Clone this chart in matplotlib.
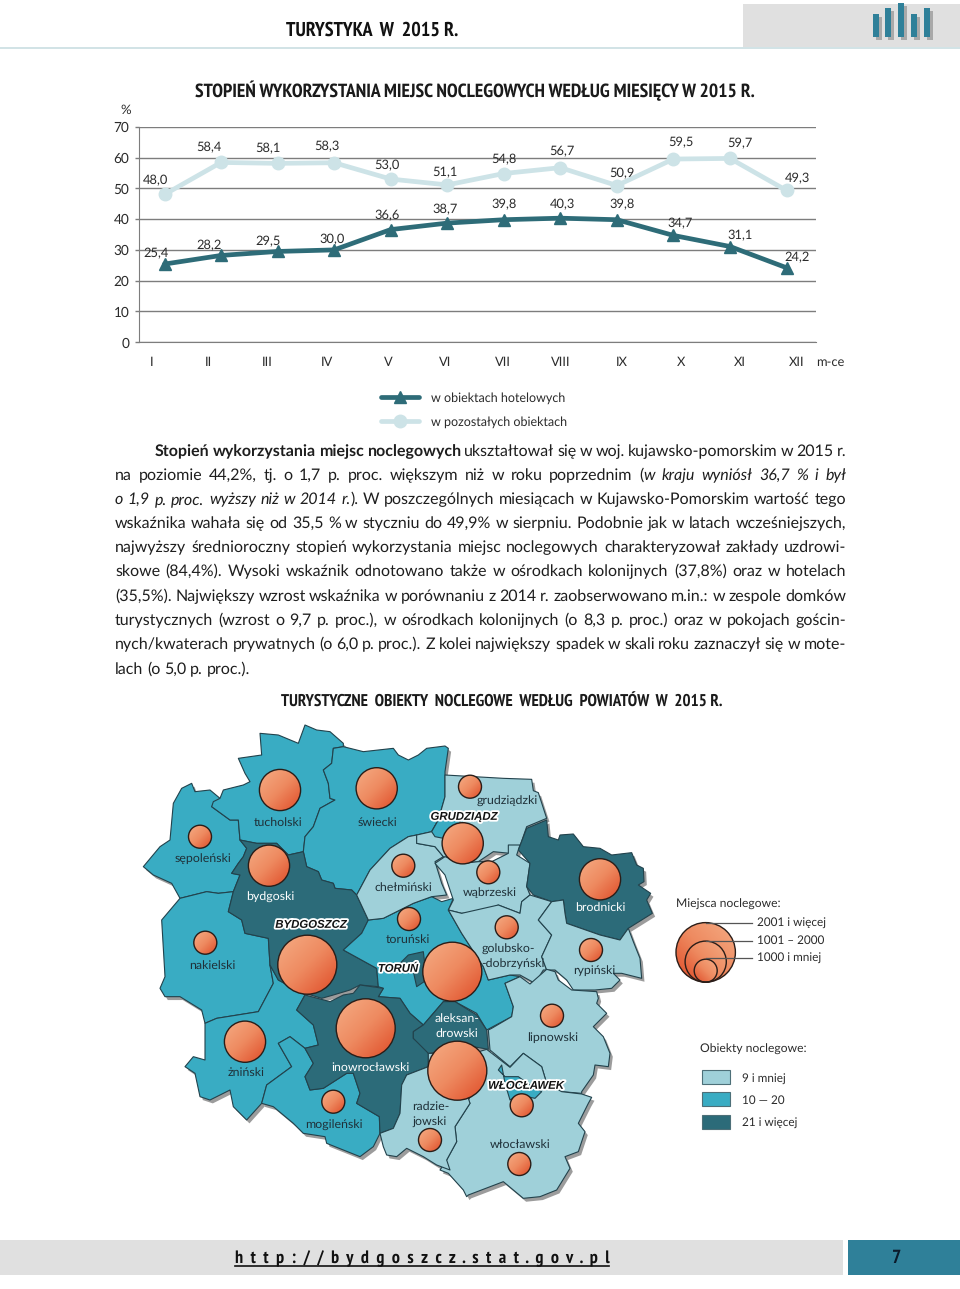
import numpy as np
import matplotlib
matplotlib.use("Agg")
import matplotlib.pyplot as plt
import matplotlib.patheffects as pe
from matplotlib.colors import LinearSegmentedColormap
from matplotlib.patches import Circle, Polygon, Rectangle
from matplotlib.transforms import ScaledTranslation

# line chart data
months = ["I", "II", "III", "IV", "V", "VI", "VII", "VIII", "IX", "X", "XI", "XII"]
hotel_values = [25.4, 28.2, 29.5, 30.0, 36.6, 38.7, 39.8, 40.3, 39.8, 34.7, 31.1, 24.2]
other_values = [48.0, 58.4, 58.1, 58.3, 53.0, 51.1, 54.8, 56.7, 50.9, 59.5, 59.7, 49.3]
y_ticks = [0, 10, 20, 30, 40, 50, 60, 70]

# map: outlines, in 3x units from the map corner
powiat_outlines = {
    "sepolenski": [(40,440),(90,380),(120,360),(130,250),(155,205),(185,190),(195,215),(240,210),(270,235),(245,260),(300,300),(325,300),(330,360),(350,385),(340,410),(325,430),(305,460),(330,465),(310,515),(265,520),(230,515),(150,535),(125,490),(70,465)],
    "tucholski": [(325,115),(395,105),(390,40),(445,45),(505,70),(525,15),(560,30),(600,35),(640,70),(640,80),(610,85),(605,130),(580,150),(595,190),(600,235),(615,240),(570,265),(550,320),(525,350),(520,395),(475,405),(440,370),(400,370),(380,370),(330,360),(325,300),(300,300),(245,260),(250,245),(270,235),(280,210),(340,195),(360,185),(345,160)],
    "swiecki": [(640,80),(610,85),(605,130),(580,150),(595,190),(600,235),(615,240),(570,265),(550,320),(525,350),(520,395),(530,440),(565,455),(575,480),(610,490),(615,505),(665,510),(680,525),(720,450),(780,385),(835,350),(860,345),(905,335),(925,300),(945,230),(945,155),(955,85),(945,78),(890,85),(865,105),(835,120),(805,105),(790,85),(700,95)],
    "nakielski": [(150,535),(230,515),(265,520),(310,515),(295,575),(335,600),(345,640),(415,655),(420,735),(430,790),(385,875),(260,895),(225,910),(215,870),(150,830),(105,830),(90,805),(105,770),(95,600)],
    "zninski": [(225,910),(260,895),(385,875),(430,790),(420,735),(445,780),(510,815),(525,825),(500,870),(550,915),(565,975),(525,985),(480,950),(445,970),(485,1040),(410,1095),(395,1150),(350,1200),(310,1160),(300,1110),(240,1140),(210,1130),(195,1060),(165,1040),(190,1010),(225,1020)],
    "mogilenski": [(445,970),(480,950),(525,985),(550,1030),(525,1070),(540,1110),(580,1105),(650,1060),(670,1060),(690,1120),(680,1150),(748,1190),(750,1240),(730,1280),(690,1310),(640,1290),(590,1270),(585,1250),(520,1240),(490,1210),(460,1185),(430,1160),(395,1150),(410,1095),(485,1040)],
    "bydgoski": [(330,360),(380,370),(440,370),(475,405),(520,395),(530,440),(565,455),(575,480),(610,490),(615,505),(665,510),(680,525),(715,600),(695,640),(640,690),(740,745),(745,800),(690,795),(660,810),(610,825),(575,835),(510,815),(445,780),(420,735),(415,655),(345,640),(335,600),(295,575),(310,515),(330,465),(305,460),(325,430),(340,410),(350,385)],
    "torunski": [(640,690),(695,640),(715,600),(760,595),(850,550),(905,530),(935,545),(970,535),(955,570),(995,640),(1060,740),(1075,780),(1140,765),(1170,770),(1125,790),(1150,860),(1145,890),(1070,930),(1040,880),(975,845),(940,845),(880,915),(840,880),(810,835),(745,830),(760,805),(745,800),(740,745)],
    "inowroclawski": [(500,870),(525,825),(600,845),(640,825),(670,820),(690,795),(760,805),(745,830),(810,835),(840,880),(880,915),(850,935),(850,955),(895,990),(895,1040),(830,1065),(815,1095),(810,1180),(790,1225),(750,1240),(748,1190),(680,1150),(690,1120),(670,1060),(650,1060),(580,1105),(540,1110),(525,1070),(550,1030),(525,985),(565,975),(550,915)],
    "chelminski": [(680,525),(720,450),(780,385),(835,350),(860,345),(860,370),(915,380),(940,410),(915,425),(935,490),(950,525),(905,530),(850,550),(760,595),(715,600)],
    "grudziadzki": [(945,165),(1120,175),(1205,178),(1210,212),(1225,218),(1250,295),(1190,320),(1170,378),(1140,378),(1140,400),(1090,395),(1045,425),(1000,430),(940,410),(915,380),(860,370),(860,345),(905,335),(925,300),(945,230)],
    "wabrzeski": [(915,430),(945,410),(1000,430),(1045,425),(1085,425),(1135,400),(1135,375),(1170,375),(1160,405),(1200,430),(1190,500),(1200,525),(1175,545),(1170,580),(1105,555),(1060,575),(995,580),(955,570),(970,540),(945,465)],
    "brodnicki": [(1165,390),(1190,325),(1250,300),(1255,350),(1285,360),(1290,345),(1330,342),(1360,380),(1410,385),(1445,405),(1505,398),(1520,435),(1540,445),(1542,485),(1525,495),(1562,520),(1550,540),(1567,580),(1495,625),(1470,660),(1410,645),(1310,610),(1305,580),(1300,540),(1265,545),(1210,525),(1190,500),(1200,430)],
    "golubsko": [(955,570),(995,580),(1105,555),(1170,580),(1175,545),(1200,525),(1265,545),(1225,600),(1265,645),(1235,710),(1250,750),(1240,750),(1215,790),(1170,765),(1140,765),(1075,780),(1060,740),(995,640)],
    "rypinski": [(1265,545),(1300,540),(1305,580),(1310,610),(1410,645),(1470,660),(1495,625),(1510,665),(1530,715),(1535,775),(1475,760),(1450,760),(1470,780),(1445,805),(1395,810),(1330,810),(1310,780),(1275,750),(1250,750),(1235,710),(1265,645),(1225,600)],
    "lipnowski": [(1125,790),(1170,770),(1200,792),(1250,748),(1275,755),(1285,780),(1325,810),(1400,815),(1405,835),(1400,850),(1430,880),(1390,920),(1420,950),(1440,1000),(1435,1040),(1395,1035),(1390,1065),(1355,1115),(1355,1120),(1295,1115),(1250,1090),(1235,1040),(1180,1000),(1140,1040),(1080,990),(1075,930),(1085,925),(1145,890),(1150,860)],
    "wloclawski": [(1070,988),(1140,1042),(1180,1000),(1235,1040),(1250,1090),(1295,1115),(1355,1122),(1385,1132),(1375,1150),(1345,1210),(1365,1235),(1345,1295),(1305,1310),(1320,1345),(1280,1410),(1230,1430),(1180,1435),(1120,1385),(1015,1425),(1010,1430),(1000,1410),(955,1360),(930,1350),(950,1320),(980,1265),(975,1220),(1020,1150),(1015,1140),(1040,1100),(1030,1000)],
    "radziejowski": [(895,1040),(830,1065),(815,1095),(810,1180),(790,1225),(750,1240),(760,1280),(770,1305),(800,1310),(830,1285),(880,1310),(920,1335),(960,1350),(950,1320),(980,1265),(975,1220),(1020,1150),(1015,1135),(1040,1100),(1040,1000),(895,1000)],
    "aleksandrowski": [(940,845),(975,845),(1040,885),(1070,930),(1075,988),(1030,980),(895,1000),(850,955),(850,935),(880,915)],
    "Grudziadz": [(905,335),(925,300),(945,285),(990,280),(990,340),(940,355),(915,350)],
    "Torun": [(800,740),(835,705),(880,695),(890,780),(860,800),(850,755)],
    "Wloclawek": [(1115,1035),(1105,1050),(1125,1070),(1165,1070),(1200,1095),(1235,1115),(1215,1135),(1165,1125),(1140,1140),(1125,1090)],
}
# 1 = 9 i mniej, 2 = 10-20, 3 = 21 i wiecej
powiat_class = {
    "sepolenski": 2, "tucholski": 2, "swiecki": 2, "nakielski": 2, "zninski": 2, "mogilenski": 2,
    "bydgoski": 3, "torunski": 2, "inowroclawski": 3, "chelminski": 1, "grudziadzki": 1, "wabrzeski": 1,
    "brodnicki": 3, "golubsko": 1, "rypinski": 1, "lipnowski": 1, "wloclawski": 1, "radziejowski": 1,
    "aleksandrowski": 3, "Grudziadz": 2, "Torun": 3, "Wloclawek": 2,
}

# bubbles: page x, page y, size class (1 = 1000 i mniej, 2 = 1001-2000, 3 = 2001 i wiecej)
bubble_x = [280, 376.7, 200, 269, 470, 462.7, 403.3, 488.3, 409, 506.7, 205.3, 307.3, 452.3, 600, 591, 365.7, 245, 333.3, 457.3, 430, 552, 521.7, 519.3]
bubble_y = [790, 788.3, 836.7, 865.7, 786.7, 843.3, 865.7, 872.3, 919, 927.3, 942.7, 964.7, 971.7, 879.3, 950, 1028.3, 1041.7, 1101.7, 1070.7, 1140, 1015.7, 1105.3, 1164]
bubble_size = [2, 2, 1, 2, 1, 2, 1, 1, 1, 1, 1, 3, 3, 2, 1, 3, 2, 1, 3, 1, 1, 1, 1]

# (text, x, y, white?)
map_labels = [
    ("tucholski", 278, 823, False), ("świecki", 377, 823, False), ("sępoleński", 203, 859, False),
    ("bydgoski", 270, 897, True), ("grudziądzki", 507, 801, False), ("chełmiński", 403, 888, False),
    ("wąbrzeski", 490, 893, False), ("toruński", 408, 940, False), ("golubsko-", 508, 949, False),
    ("-dobrzyński", 513, 964, False), ("nakielski", 212, 966, False), ("brodnicki", 600, 908, True),
    ("rypiński", 594, 971, False), ("aleksan-", 457, 1019, True), ("drowski", 457, 1034, True),
    ("lipnowski", 553, 1038, False), ("żniński", 246, 1073, False), ("inowrocławski", 370, 1068, True),
    ("mogileński", 334, 1125, False), ("radzie-", 431, 1107, False), ("jowski", 430, 1122, False),
    ("włocławski", 520, 1145, False),
]
city_labels = [("GRUDZIĄDZ", 464, 817), ("BYDGOSZCZ", 311, 925), ("TORUŃ", 398, 969), ("WŁOCŁAWEK", 526, 1086)]

body_lines = [
    [("Stopień wykorzystania miejsc noclegowych", "b"), (" ukształtował się w woj. kujawsko-pomorskim w 2015 r.", "n")],
    [("na poziomie 44,2%, tj. o 1,7 p. proc. większym niż w roku poprzednim (", "n"), ("w kraju wyniósł 36,7 % i był", "i")],
    [("o 1,9 p. proc. wyższy niż w 2014 r.", "i"), ("). W poszczególnych miesiącach w Kujawsko-Pomorskim wartość tego", "n")],
    [("wskaźnika wahała się od 35,5 % w styczniu do 49,9% w sierpniu. Podobnie jak w latach wcześniejszych,", "n")],
    [("najwyższy średnioroczny stopień wykorzystania miejsc noclegowych charakteryzował zakłady uzdrowi-", "n")],
    [("skowe (84,4%). Wysoki wskaźnik odnotowano także w ośrodkach kolonijnych (37,8%) oraz w hotelach", "n")],
    [("(35,5%). Największy wzrost wskaźnika w porównaniu z 2014 r. zaobserwowano m.in.: w zespole domków", "n")],
    [("turystycznych (wzrost o 9,7 p. proc.), w ośrodkach kolonijnych (o 8,3 p. proc.) oraz w pokojach gościn-", "n")],
    [("nych/kwaterach prywatnych (o 6,0 p. proc.). Z kolei największy spadek w skali roku zaznaczył się w mote-", "n")],
    [("lach (o 5,0 p. proc.).", "n")],
]

LIGHT = "#9FD0D9"
MID = "#39ACC3"
DARK = "#2C6B79"
EDGE = "#22424C"
TEXT = "#2b2b2b"
# PT Sans Narrow is not on the promised list, so Liberation Sans stays behind it
NARROW = ["PT Sans Narrow", "Liberation Sans"]
class_colors = {1: LIGHT, 2: MID, 3: DARK}
bubble_radius = {1: 11.5, 2: 20.6, 3: 29.5}
ball_cmap = LinearSegmentedColormap.from_list("ball", ["#F5AC84", "#EE8A60", "#DF4C28"])

plt.rcParams["font.family"] = ["Lato", "DejaVu Sans"]
plt.rcParams["text.hinting"] = "no_hinting"

fig = plt.figure(figsize=(9.6, 12.89), dpi=100)
page = fig.add_axes([0, 0, 1, 1])
page.set_xlim(0, 960)
page.set_ylim(1289, 0)
page.axis("off")
renderer = fig.canvas.get_renderer()


def to_page(points):
    pts = np.array(points, dtype=float)
    return np.column_stack([130 + pts[:, 0] / 3.0, 720 + pts[:, 1] / 3.0])


def ball(x, y, r, flip=False):
    t = np.linspace(0, 1, 48)
    gx, gy = np.meshgrid(t, t)
    grad = (gx + gy) / 2.0 if not flip else ((1 - gx) + gy) / 2.0
    c = Circle((x, y), r, fc="none", ec="#2a1d18", lw=1.0, zorder=5)
    page.add_patch(c)
    im = page.imshow(grad, cmap=ball_cmap, extent=(x - r, x + r, y + r, y - r), aspect="auto", zorder=4)
    im.set_clip_path(c)


def narrow_text(x, y, txt, width, **kw):
    # size follows the width in the page, whichever family was found
    t = page.text(x, y, txt, family=NARROW, weight="bold", fontsize=12, va="center", **kw)
    t.set_fontsize(12 * width / t.get_window_extent(renderer).width)
    return t


# header
page.add_patch(Rectangle((743, 4), 217, 43, fc="#E0E0E0", ec="none"))
page.plot([0, 960], [47.5, 47.5], color="#C9DEE2", lw=1.2)
for bx, top in zip([873, 885, 898, 911, 924], [14, 8, 3, 14, 8]):
    page.add_patch(Rectangle((bx + 3, top + 3), 6, 37 - top, fc="#A9A9A9", ec="none"))
    page.add_patch(Rectangle((bx, top), 6, 37 - top, fc="#2F8099", ec="none"))
narrow_text(286, 30.5, "TURYSTYKA  W  2015 R.", 172, color="#111111")

# chart title
narrow_text(195, 91, "STOPIEŃ WYKORZYSTANIA MIEJSC NOCLEGOWYCH WEDŁUG MIESIĘCY W 2015 R.", 557, color="#1a1a1a")
page.text(126, 110, "%", fontsize=9.5, color=TEXT, ha="center", va="center")
page.text(830, 362, "m-ce", fontsize=9.3, color=TEXT, ha="center", va="center")

# line chart
ax = fig.add_axes([139 / 960, 1 - 342.3 / 1289, 677 / 960, 215.6 / 1289])
ax.patch.set_alpha(0)
xpos = np.arange(len(months))
ax.set_xlim((139 - 164.5) / 56.55, (816 - 164.5) / 56.55)
ax.set_ylim(0, 70)
ax.set_yticks(y_ticks)
ax.yaxis.grid(True, color="#7d7d7d", lw=1.0)
ax.set_axisbelow(True)
for side in ["top", "right"]:
    ax.spines[side].set_visible(False)
ax.spines["left"].set_color("#7d7d7d")
ax.spines["bottom"].set_color("#7d7d7d")
ax.set_xticks(xpos, months)
ax.tick_params(axis="x", length=0, pad=10, labelsize=9.3, labelcolor=TEXT)
ax.tick_params(axis="y", length=3, width=1, color="#7d7d7d", pad=4, labelsize=9.8, labelcolor=TEXT)
month_shift = [-12.5, -13, -10.6, -7, -2.7, -2, -1, 0.6, 5, 7.5, 10, 10.5]
for lbl, dx in zip(ax.get_xticklabels(), month_shift):
    lbl.set_transform(lbl.get_transform() + ScaledTranslation(dx / 100, 0, fig.dpi_scale_trans))

l2, = ax.plot(xpos, other_values, color="#CDE3E7", lw=3.4, marker="o", ms=9, clip_on=False,
              label="w pozostałych obiektach", solid_capstyle="round", zorder=3)
l1, = ax.plot(xpos, hotel_values, color="#2E6C78", lw=3.4, marker="^", ms=9, clip_on=False,
              label="w obiektach hotelowych", solid_capstyle="round", zorder=3)

hotel_offsets = [(-8, 11), (-12, 10), (-10, 10), (-2, 10), (-4, 14), (-2, 14), (0, 15), (2, 14), (5, 15), (7, 12), (10, 11), (11, 10)]
other_offsets = [(-9, 14), (-12, 15), (-10, 15), (-7, 16), (-4, 13), (-2, 12), (0, 14), (2, 16), (5, 12), (7, 16), (10, 15), (11, 12)]
for vals, offs in [(hotel_values, hotel_offsets), (other_values, other_offsets)]:
    for i, v in enumerate(vals):
        ax.annotate(f"{v:.1f}".replace(".", ","), (i, v), xytext=offs[i], textcoords="offset pixels",
                    ha="center", va="center", fontsize=9.3, color=TEXT, zorder=6, annotation_clip=False)

ax.legend(handles=[l1, l2], loc="upper left", bbox_to_anchor=(381, 392), bbox_transform=page.transData,
          frameon=False, borderpad=0, borderaxespad=0, handlelength=3.0, handletextpad=1.0,
          labelspacing=0.95, fontsize=9.0, labelcolor=TEXT)


# body text, justified word by word
def style_kw(s):
    if s == "b":
        return {"weight": "bold"}
    if s == "i":
        return {"style": "italic"}
    return {}


def text_width(txt, s, size):
    t = page.text(0, 0, txt, fontsize=size, **style_kw(s))
    w = t.get_window_extent(renderer).width
    t.remove()
    return w


def draw_line(segments, x0, x1, baseline, size, justify=True):
    words = [[]]
    for txt, s in segments:
        parts = txt.split(" ")
        for k, part in enumerate(parts):
            if k > 0:
                words.append([])
            if part:
                words[-1].append((part, s))
    words = [w for w in words if w]
    widths = [sum(text_width(p, s, size) for p, s in w) for w in words]
    space = size * 100 / 72 * 0.24
    if justify:
        space = (x1 - x0 - sum(widths)) / (len(words) - 1)
    x = x0
    for w, wd in zip(words, widths):
        for p, s in w:
            page.text(x, baseline, p, fontsize=size, color="#1e1e1e", va="baseline", **style_kw(s))
            x += text_width(p, s, size)
        x += space


BODY_SIZE = 11.5
body_y = [456, 480, 504, 528, 552, 576, 601, 625, 649, 674]
for i, (segs, by) in enumerate(zip(body_lines, body_y)):
    draw_line(segs, 155 if i == 0 else 115, 846, by, BODY_SIZE, justify=i < len(body_lines) - 1)

narrow_text(281, 703, "TURYSTYCZNE  OBIEKTY  NOCLEGOWE  WEDŁUG  POWIATÓW  W  2015 R.", 440, color="#1a1a1a")

# map
for name, pts in powiat_outlines.items():
    page.add_patch(Polygon(to_page(pts) + [2.8, 3.4], closed=True, fc="#9C9C9C", ec="none", zorder=1))
for name, pts in powiat_outlines.items():
    page.add_patch(Polygon(to_page(pts), closed=True, fc=class_colors[powiat_class[name]], ec=EDGE, lw=0.8,
                           joinstyle="round", zorder=2))
for x, y, s in zip(bubble_x, bubble_y, bubble_size):
    ball(x, y, bubble_radius[s])
for txt, x, y, white in map_labels:
    page.text(x, y, txt, fontsize=8.9, color="white" if white else "#1f3038", ha="center", va="center", zorder=6)
for txt, x, y in city_labels:
    t = page.text(x, y, txt, family="Liberation Sans", weight="bold", style="italic", fontsize=8.2, color="#111111",
                  ha="center", va="center", zorder=7)
    t.set_path_effects([pe.withStroke(linewidth=2.6, foreground="white")])

# map legends
page.text(676, 904, "Miejsca noclegowe:", fontsize=8.7, color=TEXT, va="center")
for y, r, ly, txt in [(952.3, 29.7, 922.7, "2001 i więcej"), (961.7, 20.6, 940.7, "1001 – 2000"), (970.7, 11.5, 957.7, "1000 i mniej")]:
    ball(705.7, y, r, flip=True)
    page.plot([705.7, 752], [ly, ly], color="#555555", lw=0.9, zorder=6)
    page.text(757, ly, txt, fontsize=8.5, color=TEXT, va="center", zorder=6)

page.text(700, 1049, "Obiekty noclegowe:", fontsize=8.7, color=TEXT, va="center")
for y, cls, txt in [(1070, 1, "9 i mniej"), (1092, 2, "10 — 20"), (1114.5, 3, "21 i więcej")]:
    page.add_patch(Rectangle((702, y), 27.5, 14, fc=class_colors[cls], ec="#4d6f78", lw=0.8))
    page.text(742, y + 8.5, txt, fontsize=8.5, color=TEXT, va="center")

# footer
page.add_patch(Rectangle((0, 1240), 843, 35, fc="#E0E0E0", ec="none"))
page.add_patch(Rectangle((848, 1240), 112, 35, fc="#2F8099", ec="none"))
url = "http://bydgoszcz.stat.gov.pl"
narrow_text(235, 1258.5, "  ".join(url), 374, color="#111111")
page.plot([235, 609], [1265.5, 1265.5], color="#111111", lw=1.2)
page.text(897, 1258, "7", family=NARROW, weight="bold", fontsize=14, color="#0b1b2b", ha="center", va="center")

page.set_xlim(0, 960)
page.set_ylim(1289, 0)
fig.savefig("out.png", dpi=100, facecolor="white")
